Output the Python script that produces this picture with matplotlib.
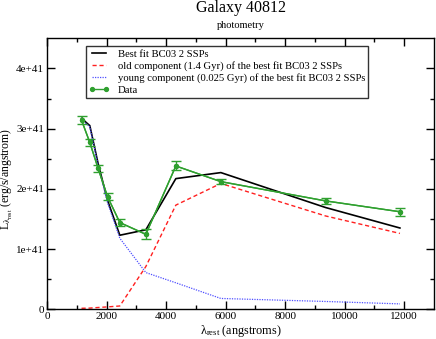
import matplotlib
matplotlib.use("Agg")
import matplotlib.pyplot as plt
import numpy as np

plt.rcParams['font.family'] = ['Liberation Serif', 'DejaVu Serif']
plt.rcParams['mathtext.fontset'] = 'custom'
plt.rcParams['mathtext.rm'] = 'Liberation Serif'
plt.rcParams['mathtext.it'] = 'Liberation Serif:italic'

# data (luminosity in units of 1e41 erg/s/angstrom)
wave = [1160, 1438, 1717, 2033, 2446, 3320, 4328, 5840, 9358, 11855]
data = [3.14, 2.77, 2.34, 1.87, 1.44, 1.245, 2.38, 2.12, 1.80, 1.62]
data_err = [0.066, 0.06, 0.055, 0.055, 0.06, 0.083, 0.075, 0.04, 0.055, 0.063]
best_fit = [3.17, 3.05, 2.42, 1.81, 1.23, 1.32, 2.17, 2.27, 1.69, 1.35]
old_comp = [0.017, 0.02, 0.03, 0.04, 0.055, 0.71, 1.73, 2.09, 1.55, 1.26]
young_comp = [3.15, 3.03, 2.39, 1.77, 1.18, 0.61, 0.44, 0.18, 0.13, 0.09]

yticks = [0, 1, 2, 3, 4]
ytick_labels = ["0", "1e+41", "2e+41", "3e+41", "4e+41"]
xticks = [0, 2000, 4000, 6000, 8000, 10000, 12000]
xtick_labels = ["0", "2000", "4000", "6000", "8000", "10000", "12000"]

scale = 1e41
w = np.array(wave)
green = '#2fa02f'

fig = plt.figure(figsize=(4.36, 3.39), dpi=100)
ax = fig.add_axes([47/436, 1 - 309.3/339, 387/436, 271/339])

ax.plot(w, np.array(best_fit) * scale, color='black', lw=1.2,
        label='Best fit BC03 2 SSPs')
ax.plot(w, np.array(old_comp) * scale, color='#ff2020', lw=1.0, ls=(0, (3, 2)),
        label='old component (1.4 Gyr) of the best fit BC03 2 SSPs')
ax.plot(w, np.array(young_comp) * scale, color='#5050ff', lw=0.9, ls=(0, (1, 1)),
        label='young component (0.025 Gyr) of the best fit BC03 2 SSPs')
ax.errorbar(w, np.array(data) * scale, yerr=np.array(data_err) * scale,
            color=green, lw=1.0, marker='o', ms=2.8, capsize=3.5,
            elinewidth=1.0, capthick=1.0)
ax.plot(w, np.array(data) * scale, color=green, lw=1.0, marker='o', ms=2.8,
        label='Data')

ax.set_xlim(0, 13000)
ax.set_ylim(0, 4.5 * scale)
ax.set_xticks(xticks)
ax.set_xticklabels(xtick_labels)
ax.set_xticks(np.arange(1000, 13000, 2000), minor=True)
ax.set_yticks([v * scale for v in yticks])
ax.set_yticklabels(ytick_labels)
ax.set_yticks([v * scale for v in [0.5, 1.5, 2.5, 3.5]], minor=True)

ax.tick_params(which='both', direction='in', top=True, right=True,
               labelsize=8, width=1, pad=2)
ax.tick_params(which='major', length=5.5)
ax.tick_params(which='minor', length=3)
for s in ax.spines.values():
    s.set_linewidth(1.0)

ax.set_xlabel(r'$\mathrm{\lambda}_{\mathrm{rest}}$ (angstroms)', fontsize=8.8)
ax.xaxis.set_label_coords(0.5, -0.052)
ax.set_ylabel(r'L$_{\mathrm{\lambda}_{\mathrm{rest}}}$ (erg/s/angstrom)', fontsize=8.5)
ax.yaxis.set_label_coords(-0.083, 0.48)

fig.text(240.5/436, 1 - 11.5/339, 'Galaxy 40812', ha='center', va='baseline', fontsize=11.5)
fig.text(240.5/436, 1 - 28/339, 'photometry', ha='center', va='baseline', fontsize=7.5)

leg = ax.legend(loc='upper left', bbox_to_anchor=(0.1008, 0.9716), borderaxespad=0,
                fontsize=7.65, frameon=True, fancybox=False, edgecolor='black',
                handlelength=1.9, handletextpad=0.8, labelspacing=0.22,
                borderpad=0.3, numpoints=2)
leg.get_frame().set_linewidth(1.0)

fig.savefig('out.png', dpi=100)
